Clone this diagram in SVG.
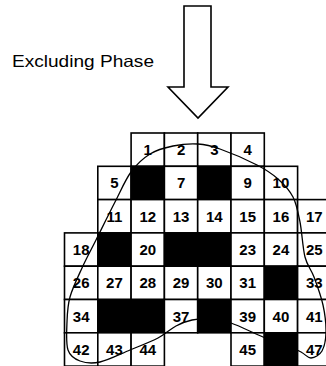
<svg xmlns="http://www.w3.org/2000/svg" width="326" height="366" viewBox="0 0 326 366">
<style>
.c{fill:#fff;stroke:#000;stroke-width:1.6}
.b{fill:#000;stroke:#000;stroke-width:1.6}
.n{font-family:"Liberation Sans",Arial,sans-serif;font-weight:bold;font-size:15px;fill:#000;text-anchor:middle}
.lbl{font-family:"Liberation Sans",Arial,sans-serif;font-size:16.5px;fill:#000}
</style>
<rect width="326" height="366" fill="#fff"/>
<text class="lbl" x="12" y="67" textLength="142" lengthAdjust="spacingAndGlyphs">Excluding Phase</text>
<g id="arrow"><path d="M184,6 L211,6 L211,87 L228,87 L198,118 L168,87 L184,87 Z" fill="#fff" stroke="#000" stroke-width="1.6" stroke-linejoin="miter"/></g>
<g id="grid">
<g id="cell-1"><rect class="c" x="131.1" y="133" width="33.3" height="33.3"/><text class="n" x="147.75" y="155">1</text></g>
<g id="cell-2"><rect class="c" x="164.4" y="133" width="33.3" height="33.3"/><text class="n" x="181.05" y="155">2</text></g>
<g id="cell-3"><rect class="c" x="197.7" y="133" width="33.3" height="33.3"/><text class="n" x="214.35" y="155">3</text></g>
<g id="cell-4"><rect class="c" x="231" y="133" width="33.3" height="33.3"/><text class="n" x="247.65" y="155">4</text></g>
<g id="cell-5"><rect class="c" x="97.8" y="166.3" width="33.3" height="33.3"/><text class="n" x="114.45" y="188.3">5</text></g>
<g id="cell-6"><rect class="b" x="131.1" y="166.3" width="33.3" height="33.3"/></g>
<g id="cell-7"><rect class="c" x="164.4" y="166.3" width="33.3" height="33.3"/><text class="n" x="181.05" y="188.3">7</text></g>
<g id="cell-8"><rect class="b" x="197.7" y="166.3" width="33.3" height="33.3"/></g>
<g id="cell-9"><rect class="c" x="231" y="166.3" width="33.3" height="33.3"/><text class="n" x="247.65" y="188.3">9</text></g>
<g id="cell-10"><rect class="c" x="264.3" y="166.3" width="33.3" height="33.3"/><text class="n" x="280.95" y="188.3">10</text></g>
<g id="cell-11"><rect class="c" x="97.8" y="199.6" width="33.3" height="33.3"/><text class="n" x="114.45" y="221.6">11</text></g>
<g id="cell-12"><rect class="c" x="131.1" y="199.6" width="33.3" height="33.3"/><text class="n" x="147.75" y="221.6">12</text></g>
<g id="cell-13"><rect class="c" x="164.4" y="199.6" width="33.3" height="33.3"/><text class="n" x="181.05" y="221.6">13</text></g>
<g id="cell-14"><rect class="c" x="197.7" y="199.6" width="33.3" height="33.3"/><text class="n" x="214.35" y="221.6">14</text></g>
<g id="cell-15"><rect class="c" x="231" y="199.6" width="33.3" height="33.3"/><text class="n" x="247.65" y="221.6">15</text></g>
<g id="cell-16"><rect class="c" x="264.3" y="199.6" width="33.3" height="33.3"/><text class="n" x="280.95" y="221.6">16</text></g>
<g id="cell-17"><rect class="c" x="297.6" y="199.6" width="33.3" height="33.3"/><text class="n" x="314.25" y="221.6">17</text></g>
<g id="cell-18"><rect class="c" x="64.5" y="232.9" width="33.3" height="33.3"/><text class="n" x="81.15" y="254.9">18</text></g>
<g id="cell-19"><rect class="b" x="97.8" y="232.9" width="33.3" height="33.3"/></g>
<g id="cell-20"><rect class="c" x="131.1" y="232.9" width="33.3" height="33.3"/><text class="n" x="147.75" y="254.9">20</text></g>
<g id="cell-21-22"><rect class="b" x="164.4" y="232.9" width="66.6" height="33.3"/></g>
<g id="cell-23"><rect class="c" x="231" y="232.9" width="33.3" height="33.3"/><text class="n" x="247.65" y="254.9">23</text></g>
<g id="cell-24"><rect class="c" x="264.3" y="232.9" width="33.3" height="33.3"/><text class="n" x="280.95" y="254.9">24</text></g>
<g id="cell-25"><rect class="c" x="297.6" y="232.9" width="33.3" height="33.3"/><text class="n" x="314.25" y="254.9">25</text></g>
<g id="cell-26"><rect class="c" x="64.5" y="266.2" width="33.3" height="33.3"/><text class="n" x="81.15" y="288.2">26</text></g>
<g id="cell-27"><rect class="c" x="97.8" y="266.2" width="33.3" height="33.3"/><text class="n" x="114.45" y="288.2">27</text></g>
<g id="cell-28"><rect class="c" x="131.1" y="266.2" width="33.3" height="33.3"/><text class="n" x="147.75" y="288.2">28</text></g>
<g id="cell-29"><rect class="c" x="164.4" y="266.2" width="33.3" height="33.3"/><text class="n" x="181.05" y="288.2">29</text></g>
<g id="cell-30"><rect class="c" x="197.7" y="266.2" width="33.3" height="33.3"/><text class="n" x="214.35" y="288.2">30</text></g>
<g id="cell-31"><rect class="c" x="231" y="266.2" width="33.3" height="33.3"/><text class="n" x="247.65" y="288.2">31</text></g>
<g id="cell-32"><rect class="b" x="264.3" y="266.2" width="33.3" height="33.3"/></g>
<g id="cell-33"><rect class="c" x="297.6" y="266.2" width="33.3" height="33.3"/><text class="n" x="314.25" y="288.2">33</text></g>
<g id="cell-34"><rect class="c" x="64.5" y="299.5" width="33.3" height="33.3"/><text class="n" x="81.15" y="321.5">34</text></g>
<g id="cell-35-36"><rect class="b" x="97.8" y="299.5" width="66.6" height="33.3"/></g>
<g id="cell-37"><rect class="c" x="164.4" y="299.5" width="33.3" height="33.3"/><text class="n" x="181.05" y="321.5">37</text></g>
<g id="cell-38"><rect class="b" x="197.7" y="299.5" width="33.3" height="33.3"/></g>
<g id="cell-39"><rect class="c" x="231" y="299.5" width="33.3" height="33.3"/><text class="n" x="247.65" y="321.5">39</text></g>
<g id="cell-40"><rect class="c" x="264.3" y="299.5" width="33.3" height="33.3"/><text class="n" x="280.95" y="321.5">40</text></g>
<g id="cell-41"><rect class="c" x="297.6" y="299.5" width="33.3" height="33.3"/><text class="n" x="314.25" y="321.5">41</text></g>
<g id="cell-42"><rect class="c" x="64.5" y="332.8" width="33.3" height="33.3"/><text class="n" x="81.15" y="354.8">42</text></g>
<g id="cell-43"><rect class="c" x="97.8" y="332.8" width="33.3" height="33.3"/><text class="n" x="114.45" y="354.8">43</text></g>
<g id="cell-44"><rect class="c" x="131.1" y="332.8" width="33.3" height="33.3"/><text class="n" x="147.75" y="354.8">44</text></g>
<g id="cell-45"><rect class="c" x="231" y="332.8" width="33.3" height="33.3"/><text class="n" x="247.65" y="354.8">45</text></g>
<g id="cell-46"><rect class="b" x="264.3" y="332.8" width="33.3" height="33.3"/></g>
<g id="cell-47"><rect class="c" x="297.6" y="332.8" width="33.3" height="33.3"/><text class="n" x="314.25" y="354.8">47</text></g>
</g>
<g id="connectors">
<path fill="none" stroke="#000" stroke-width="1.3" d="M68,350 C65.83,343.5 66.67,330.83 67,322 C67.33,313.17 67.5,306 70,297 C72.5,288 77.67,277.5 82,268 C86.33,258.5 90.5,251 96,240 C101.5,229 109.17,213.33 115,202 C120.83,190.67 125.17,180 131,172 C136.83,164 143,158.33 150,154 C157,149.67 165,147.67 173,146 C181,144.33 190.17,143.5 198,144 C205.83,144.5 210.17,145.5 220,149 C229.83,152.5 247.33,160 257,165 C266.67,170 272,173.67 278,179 C284,184.33 289.33,189.83 293,197 C296.67,204.17 298,212 300,222 C302,232 302.67,247.83 305,257 C307.33,266.17 311,269 314,277 C317,285 321,295.83 323,305 C325,314.17 326.17,324.33 326,332 C325.83,339.67 324.5,346.67 322,351 C319.5,355.33 314.5,357.83 311,358 C307.5,358.17 305.83,354.5 301,352 C296.17,349.5 288.33,345.5 282,343 C275.67,340.5 271.5,340.33 263,337 C254.5,333.67 239.83,326 231,323 C222.17,320 216.5,319.5 210,319 C203.5,318.5 197.67,318.83 192,320 C186.33,321.17 181.67,323 176,326 C170.33,329 165.67,334 158,338 C150.33,342 139.67,346 130,350 C120.33,354 108.33,360.17 100,362 C91.67,363.83 85.33,363 80,361 C74.67,359 70.17,356.5 68,350 Z"/>
</g>
</svg>
